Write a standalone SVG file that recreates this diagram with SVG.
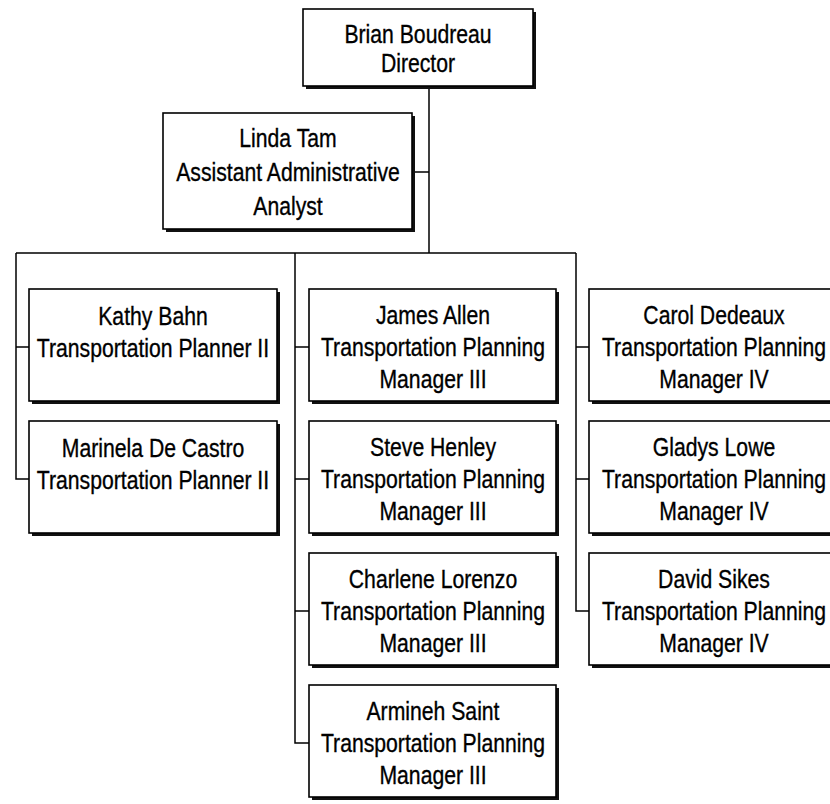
<svg xmlns="http://www.w3.org/2000/svg" width="830" height="804" viewBox="0 0 830 804">
<style>
.box{fill:#fff;stroke:#000;stroke-width:1.6}
.sh{fill:#111}
.t{font-family:"Liberation Sans",Arial,sans-serif;font-size:26px;fill:#000;stroke:#000;stroke-width:0.35;text-anchor:middle}
.ln{stroke:#000;stroke-width:1.5;fill:none}
</style>
<rect width="830" height="804" fill="#fff"/>
<g id="connectors">
<path class="ln" d="M429 88V253M415 172H429M16 253H576M16 253V479H29M16 347H29M295 253V743H309M295 347H309M295 479H309M295 611H309M576 253V611H589M576 347H589M576 479H589"/>
</g>
<g id="n-director">
<rect class="sh" x="306" y="12" width="230" height="77"/>
<rect class="box" x="303" y="9" width="230" height="77"/>
<g transform="translate(418 0) scale(0.815 1)">
<text class="t" x="0" y="43">Brian Boudreau</text>
<text class="t" x="0" y="72">Director</text>
</g>
</g>
<g id="n-linda">
<rect class="sh" x="166" y="116" width="249" height="116"/>
<rect class="box" x="163" y="113" width="249" height="116"/>
<g transform="translate(288 0) scale(0.815 1)">
<text class="t" x="0" y="147">Linda Tam</text>
<text class="t" x="0" y="181">Assistant Administrative</text>
<text class="t" x="0" y="215">Analyst</text>
</g>
</g>
<g id="n-kathy">
<rect class="sh" x="32" y="292" width="248" height="112"/>
<rect class="box" x="29" y="289" width="248" height="112"/>
<g transform="translate(153 0) scale(0.815 1)">
<text class="t" x="0" y="325">Kathy Bahn</text>
<text class="t" x="0" y="357">Transportation Planner II</text>
</g>
</g>
<g id="n-marinela">
<rect class="sh" x="32" y="424" width="248" height="112"/>
<rect class="box" x="29" y="421" width="248" height="112"/>
<g transform="translate(153 0) scale(0.815 1)">
<text class="t" x="0" y="457">Marinela De Castro</text>
<text class="t" x="0" y="489">Transportation Planner II</text>
</g>
</g>
<g id="n-james">
<rect class="sh" x="312" y="292" width="247" height="112"/>
<rect class="box" x="309" y="289" width="247" height="112"/>
<g transform="translate(433 0) scale(0.815 1)">
<text class="t" x="0" y="324">James Allen</text>
<text class="t" x="0" y="356">Transportation Planning</text>
<text class="t" x="0" y="388">Manager III</text>
</g>
</g>
<g id="n-steve">
<rect class="sh" x="312" y="424" width="247" height="112"/>
<rect class="box" x="309" y="421" width="247" height="112"/>
<g transform="translate(433 0) scale(0.815 1)">
<text class="t" x="0" y="456">Steve Henley</text>
<text class="t" x="0" y="488">Transportation Planning</text>
<text class="t" x="0" y="520">Manager III</text>
</g>
</g>
<g id="n-charlene">
<rect class="sh" x="312" y="556" width="247" height="112"/>
<rect class="box" x="309" y="553" width="247" height="112"/>
<g transform="translate(433 0) scale(0.815 1)">
<text class="t" x="0" y="588">Charlene Lorenzo</text>
<text class="t" x="0" y="620">Transportation Planning</text>
<text class="t" x="0" y="652">Manager III</text>
</g>
</g>
<g id="n-armineh">
<rect class="sh" x="312" y="688" width="247" height="112"/>
<rect class="box" x="309" y="685" width="247" height="112"/>
<g transform="translate(433 0) scale(0.815 1)">
<text class="t" x="0" y="720">Armineh Saint</text>
<text class="t" x="0" y="752">Transportation Planning</text>
<text class="t" x="0" y="784">Manager III</text>
</g>
</g>
<g id="n-carol">
<rect class="sh" x="592" y="292" width="250" height="112"/>
<rect class="box" x="589" y="289" width="250" height="112"/>
<g transform="translate(714 0) scale(0.815 1)">
<text class="t" x="0" y="324">Carol Dedeaux</text>
<text class="t" x="0" y="356">Transportation Planning</text>
<text class="t" x="0" y="388">Manager IV</text>
</g>
</g>
<g id="n-gladys">
<rect class="sh" x="592" y="424" width="250" height="112"/>
<rect class="box" x="589" y="421" width="250" height="112"/>
<g transform="translate(714 0) scale(0.815 1)">
<text class="t" x="0" y="456">Gladys Lowe</text>
<text class="t" x="0" y="488">Transportation Planning</text>
<text class="t" x="0" y="520">Manager IV</text>
</g>
</g>
<g id="n-david">
<rect class="sh" x="592" y="556" width="250" height="112"/>
<rect class="box" x="589" y="553" width="250" height="112"/>
<g transform="translate(714 0) scale(0.815 1)">
<text class="t" x="0" y="588">David Sikes</text>
<text class="t" x="0" y="620">Transportation Planning</text>
<text class="t" x="0" y="652">Manager IV</text>
</g>
</g>
</svg>
